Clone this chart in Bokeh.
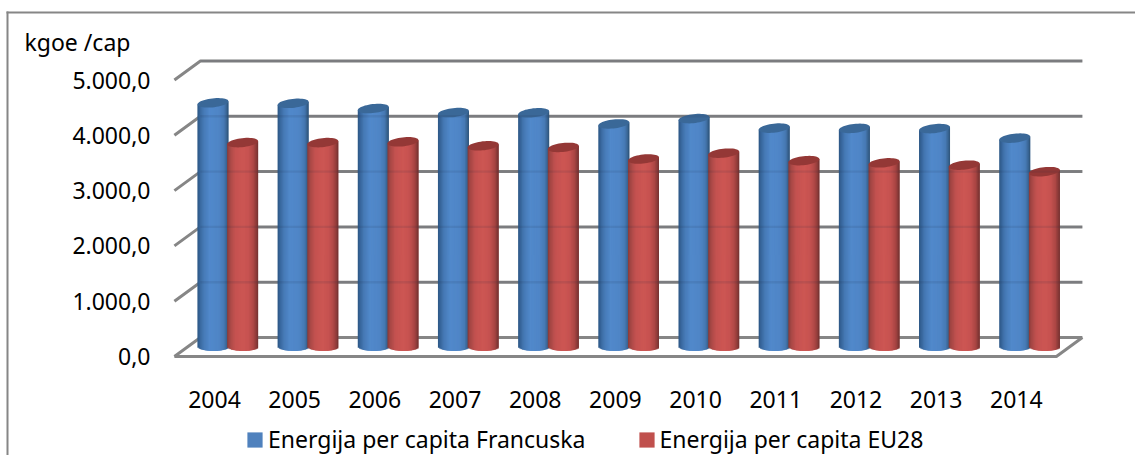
from bokeh.plotting import figure
from bokeh.models import Range1d, FixedTicker, Label, BoxAnnotation, Legend, LegendItem
from bokeh.embed import file_html
from bokeh.resources import INLINE
import numpy as np

years = ["2004","2005","2006","2007","2008","2009","2010","2011","2012","2013","2014"]
francuska = [4406,4397,4303,4230,4226,4025,4121,3949,3944,3940,3768]
eu28 = [3687,3687,3701,3629,3600,3391,3496,3361,3321,3279,3161]
y_ticks = [0,1000,2000,3000,4000,5000]
y_labels = ["0,0","1.000,0","2.000,0","3.000,0","4.000,0","5.000,0"]
ylabel_text = "kgoe /cap"
series_names = ["Energija per capita Francuska","Energija per capita EU28"]

FONT = "Noto Sans"
FS = "23px"
GREY = "#868686"
PXX = 80.18     # px per category
PXY = 0.0553    # px per unit
X0, Y0 = 214.0, 356.0   # page px of category 0 / value 0

def dx(px): return (px - X0) / PXX
def dy(px): return (Y0 - px) / PXY

W, H = 1135, 455
p = figure(width=W, height=H, output_backend="svg", toolbar_location=None,
           x_range=Range1d(dx(0), dx(W)), y_range=Range1d(dy(H), dy(0)),
           min_border=0, outline_line_color=None,
           background_fill_color="white", border_fill_color="white")
p.grid.visible = False

ax = p.xaxis[0]
ax.ticker = FixedTicker(ticks=list(range(len(years))))
ax.major_label_overrides = {i: y for i, y in enumerate(years)}
ax.fixed_location = dy(360)
ay = p.yaxis[0]
ay.ticker = FixedTicker(ticks=y_ticks)
ay.major_label_overrides = dict(zip(y_ticks, y_labels))
ay.fixed_location = dx(170)
for a in (ax, ay):
    a.axis_line_color = None
    a.major_tick_line_color = None
    a.minor_tick_line_color = None
    a.major_label_text_font = FONT
    a.major_label_text_font_size = FS
    a.major_label_text_color = "#000000"
ax.major_label_standoff = 24
ay.major_label_standoff = 14

# wall + floor gridlines
DEPX, DEPY = 26/PXX, 19/PXY
n = len(years)
x_front0 = -0.5
x_front1 = -0.5 + n
gx, gy = [], []
for v in y_ticks:
    gx.append([x_front0, x_front0+DEPX, x_front1+DEPX])
    gy.append([v, v+DEPY, v+DEPY])
p.multi_line(gx, gy, line_color=GREY, line_width=3)
p.line([x_front0, x_front1, x_front1+DEPX], [0, 0, DEPY], line_color=GREY, line_width=3)

BLUE_STOPS = [(-1,"#2c5683"),(-.85,"#37659a"),(-.6,"#467ab6"),(-.2,"#5189cb"),(.4,"#4f85c6"),(.72,"#477ab4"),(.9,"#37628f"),(1,"#2c5074")]
RED_STOPS = [(-1,"#863a38"),(-.85,"#a44644"),(-.5,"#c45250"),(0,"#cd5653"),(.4,"#c65250"),(.72,"#ab4644"),(.9,"#883937"),(1,"#703030")]

def shade(stops, u):
    xs = [s[0] for s in stops]
    rgb = [[int(s[1][i:i+2],16) for s in stops] for i in (1,3,5)]
    return "#%02x%02x%02x" % tuple(int(round(np.interp(u, xs, c))) for c in rgb)

RX = 15.5/PXX
RY = 4.5/PXY
TILT = 1.6/PXY
BASE = 10/PXY
NS = 24

def cylinder(cx, val, stops, top_color):
    edges = np.linspace(-1, 1, NS+1)
    lefts, rights, tops, bottoms, cols = [], [], [], [], []
    for a, b in zip(edges[:-1], edges[1:]):
        m = (a+b)/2
        lefts.append(cx + a*RX)
        rights.append(cx + min(b+2/NS, 1)*RX)
        tops.append(val + BASE + TILT*m)
        bottoms.append(BASE - RY*np.sqrt(max(1-m*m, 0)))
        cols.append(shade(stops, m))
    p.quad(left=lefts, right=rights, top=tops, bottom=bottoms, fill_color=cols, line_color=None)
    t = np.linspace(0, 2*np.pi, 48)
    p.patch(cx + RX*np.cos(t), val + BASE + RY*np.sin(t) + TILT*np.cos(t), fill_color=top_color, line_color=None)

for i in range(n):
    cylinder(i - 1.6/PXX, francuska[i], BLUE_STOPS, "#3a6898")
    cylinder(i + 28.1/PXX, eu28[i], RED_STOPS, "#943836")

# faint gridline showing through the bars
p.multi_line([[x_front0+DEPX, x_front1+DEPX] for v in y_ticks[1:]],
             [[v+DEPY, v+DEPY] for v in y_ticks[1:]], line_color="#1a2a40", line_width=2.4, line_alpha=0.1)

# chart frame
for l, r, t, b in [(6, 8, 11, H), (6, W, 11, 13)]:
    p.add_layout(BoxAnnotation(left=dx(l), right=dx(r), top=dy(t), bottom=dy(b),
                               fill_color=GREY, fill_alpha=1, line_color=None, editable=False))

p.add_layout(Label(x=dx(24), y=dy(41), text=ylabel_text, text_font=FONT, text_font_size=FS,
                   text_color="#000000", text_baseline="middle", text_align="left"))

# legend keys: one out-of-view quad per series supplies the swatch glyph
r1 = p.quad(left=[-50], right=[-49], top=[1], bottom=[0], fill_color="#4f81bd", line_color=None)
r2 = p.quad(left=[-50], right=[-49], top=[1], bottom=[0], fill_color="#c0504d", line_color=None)
leg = Legend(items=[LegendItem(label=series_names[0], renderers=[r1]),
                    LegendItem(label=series_names[1], renderers=[r2])],
             location=(245, 0), orientation="horizontal", glyph_width=19, glyph_height=19,
             label_standoff=4, spacing=51, padding=0, margin=0, border_line_color=None,
             background_fill_alpha=0, label_text_font=FONT, label_text_font_size=FS,
             label_text_color="#000000", label_height=15, label_text_baseline="middle")
p.add_layout(leg)

open("out.html", "w").write(file_html(p, INLINE))
